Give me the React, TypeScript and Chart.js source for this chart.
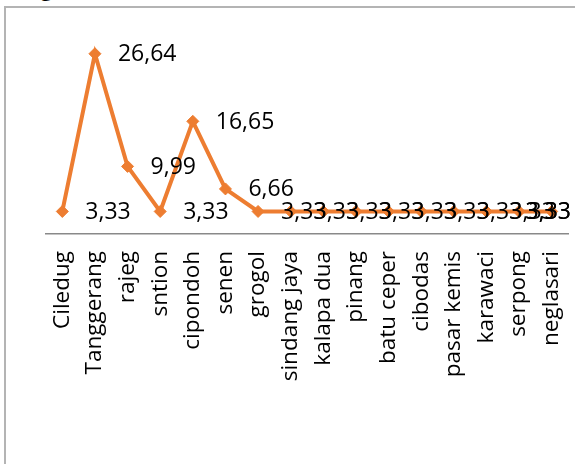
import React, { useEffect, useRef } from "react";
import { Chart, registerables } from "chart.js";

Chart.register(...registerables);

const categories = [
  "Ciledug",
  "Tanggerang",
  "rajeg",
  "sntion",
  "cipondoh",
  "senen",
  "grogol",
  "sindang jaya",
  "kalapa dua",
  "pinang",
  "batu ceper",
  "cibodas",
  "pasar kemis",
  "karawaci",
  "serpong",
  "neglasari",
];

const values = [3.33, 26.64, 9.99, 3.33, 16.65, 6.66, 3.33, 3.33, 3.33, 3.33, 3.33, 3.33, 3.33, 3.33, 3.33, 3.33];

const yMin = 0;
const yMax = 30;

const ORANGE = "#ED7D31";
const FONT = "'Open Sans', 'DejaVu Sans', sans-serif";

const dataLabelPlugin = {
  id: "dataLabels",
  afterDatasetsDraw(chart: any) {
    const ctx = chart.ctx;
    const meta = chart.getDatasetMeta(0);
    const ds = chart.data.datasets[0];
    ctx.save();
    ctx.font = `23px ${FONT}`;
    ctx.fillStyle = "#000000";
    ctx.textBaseline = "middle";
    ctx.textAlign = "left";
    const rightLimit = chart.width - 4;
    meta.data.forEach((pt: any, i: number) => {
      const v = ds.data[i] as number;
      const txt = v.toFixed(2).replace(".", ",");
      const w = ctx.measureText(txt).width;
      let x = pt.x + 23;
      if (x + w > rightLimit) x = rightLimit - w;
      ctx.fillText(txt, x, pt.y + 1);
    });
    ctx.restore();
  },
};

export default function App() {
  const ref = useRef<HTMLCanvasElement | null>(null);

  useEffect(() => {
    document.body.style.margin = "0";
    const canvas = ref.current;
    if (!canvas) return;
    const chart = new Chart(canvas, {
      type: "line",
      data: {
        labels: categories,
        datasets: [
          {
            data: values,
            borderColor: ORANGE,
            backgroundColor: ORANGE,
            borderWidth: 4,
            pointStyle: "rectRot",
            pointRadius: 6,
            pointBorderWidth: 1,
            pointBackgroundColor: ORANGE,
            pointBorderColor: ORANGE,
            tension: 0,
            fill: false,
          },
        ],
      },
      options: {
        responsive: false,
        animation: false,
        devicePixelRatio: 1,
        layout: { padding: { left: 46, right: 6, top: 31, bottom: 0 } },
        plugins: {
          legend: { display: false },
          tooltip: { enabled: false },
          title: { display: false },
        },
        scales: {
          x: {
            type: "category",
            offset: true,
            grid: { display: false, drawTicks: false },
            border: { display: true, color: "#898989", width: 1.5 },
            ticks: {
              autoSkip: false,
              minRotation: 90,
              maxRotation: 90,
              padding: 17,
              color: "#000000",
              font: { family: FONT, size: 22.5 },
            },
            afterFit: (s: any) => {
              s.height = 230;
              s.paddingLeft = 0;
              s.paddingRight = 0;
            },
          },
          y: {
            display: false,
            min: yMin,
            max: yMax,
          },
        },
      },
      plugins: [dataLabelPlugin],
    });
    return () => chart.destroy();
  }, []);

  return (
    <div style={{ position: "relative", width: 575, height: 464, overflow: "hidden", background: "#fff" }}>
      <div
        style={{
          position: "absolute",
          left: 4,
          top: 6,
          width: 600,
          height: 500,
          borderLeft: "2px solid #b4b4b4",
          borderTop: "2px solid #b4b4b4",
        }}
      />
      <div
        style={{
          position: "absolute",
          left: 40,
          top: -26,
          fontFamily: FONT,
          fontSize: 24,
          color: "#000",
          lineHeight: "24px",
        }}
      >
        g
      </div>
      <canvas ref={ref} width={575} height={464} style={{ position: "absolute", left: 0, top: 0 }} />
    </div>
  );
}
